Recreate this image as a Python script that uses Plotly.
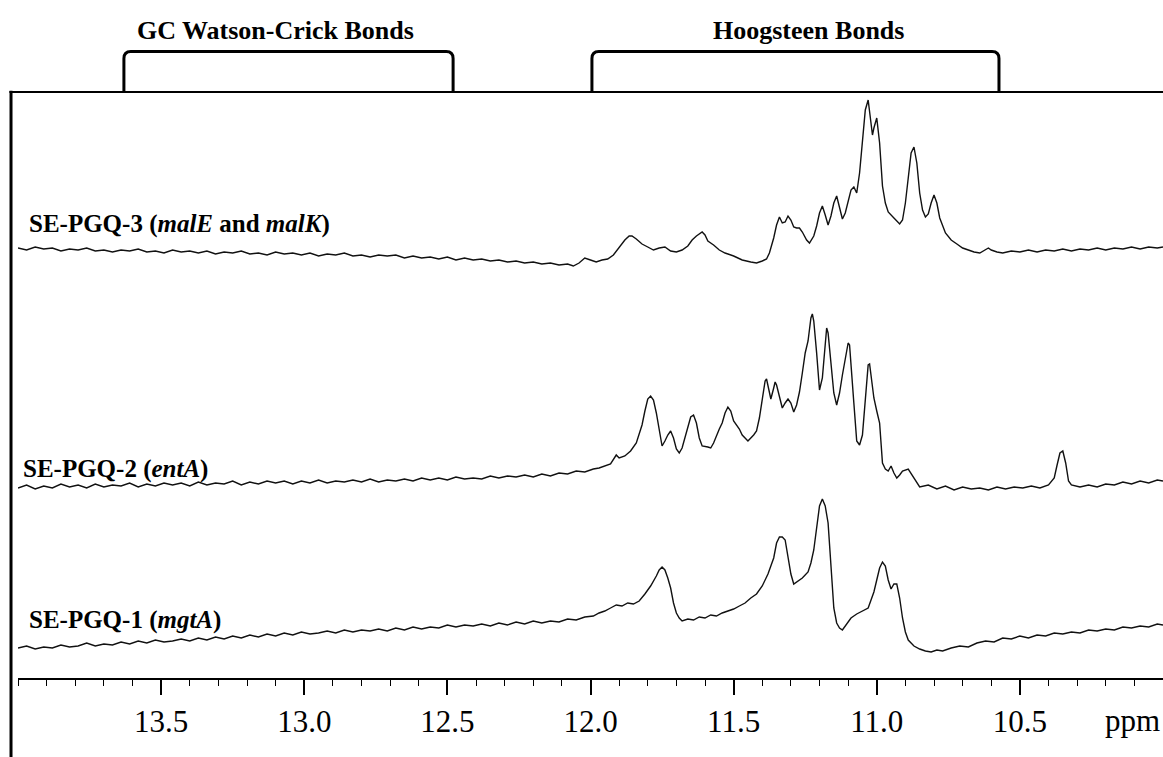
import plotly.graph_objects as go

# ---------------- data ----------------
# chemical shift (ppm) and intensity (a.u., relative to each trace's own baseline)
ppm_mgtA = [14.00, 13.97, 13.94, 13.91, 13.88, 13.85, 13.82, 13.79, 13.76, 13.73, 13.70, 13.67, 13.64, 13.61,
            13.58, 13.55, 13.52, 13.49, 13.46, 13.43, 13.40, 13.37, 13.34, 13.31, 13.28, 13.25, 13.22, 13.19,
            13.16, 13.13, 13.10, 13.07, 13.04, 13.01, 12.98, 12.95, 12.92, 12.89, 12.86, 12.83, 12.80, 12.77,
            12.74, 12.71, 12.68, 12.65, 12.62, 12.59, 12.56, 12.53, 12.50, 12.47, 12.44, 12.41, 12.38, 12.35,
            12.32, 12.29, 12.26, 12.23, 12.20, 12.17, 12.14, 12.11, 12.08, 12.05, 12.02, 11.99, 11.97, 11.95,
            11.93, 11.91, 11.89, 11.87, 11.85, 11.83, 11.81, 11.79, 11.77, 11.76, 11.75, 11.74, 11.73, 11.72,
            11.71, 11.70, 11.69, 11.68, 11.66, 11.64, 11.62, 11.60, 11.58, 11.56, 11.54, 11.52, 11.50, 11.48,
            11.46, 11.44, 11.42, 11.40, 11.38, 11.36, 11.35, 11.34, 11.33, 11.32, 11.31, 11.30, 11.29, 11.28,
            11.26, 11.24, 11.23, 11.22, 11.21, 11.20, 11.19, 11.18, 11.17, 11.16, 11.15, 11.14, 11.13, 11.12,
            11.11, 11.10, 11.09, 11.07, 11.05, 11.03, 11.02, 11.01, 11.00, 10.99, 10.98, 10.97, 10.96, 10.95,
            10.94, 10.93, 10.92, 10.91, 10.90, 10.89, 10.87, 10.85, 10.83, 10.81, 10.79, 10.77, 10.74, 10.71,
            10.68, 10.65, 10.62, 10.59, 10.56, 10.53, 10.50, 10.47, 10.44, 10.41, 10.38, 10.35, 10.32, 10.29,
            10.26, 10.23, 10.20, 10.17, 10.14, 10.11, 10.08, 10.05, 10.02, 10.00]
int_mgtA = [10, 12, 9, 11, 10, 13, 11, 12, 15, 12, 14, 13, 16, 14,
            17, 15, 18, 16, 17, 19, 17, 20, 18, 21, 19, 22, 20, 23,
            21, 24, 22, 25, 23, 26, 24, 25, 27, 25, 28, 26, 28, 27,
            29, 27, 30, 28, 31, 29, 31, 30, 33, 31, 33, 32, 34, 32,
            35, 33, 36, 34, 37, 35, 37, 36, 39, 38, 41, 42, 45, 47,
            50, 53, 52, 55, 54, 57, 64, 72, 82, 88, 91, 88, 80, 70,
            55, 45, 40, 37, 39, 38, 41, 40, 43, 42, 45, 47, 49, 52,
            55, 60, 64, 72, 84, 100, 115, 121, 121, 118, 100, 84, 74, 76,
            80, 86, 95, 108, 130, 152, 159, 152, 135, 95, 50, 35, 30, 28,
            32, 36, 40, 44, 47, 50, 58, 66, 78, 90, 96, 92, 78, 69,
            74, 74, 60, 40, 26, 18, 12, 9, 7, 6, 8, 7, 10, 12,
            11, 15, 17, 16, 20, 19, 22, 20, 23, 22, 25, 24, 26, 25,
            28, 27, 29, 28, 31, 30, 32, 31, 34, 33]

ppm_entA = [14.00, 13.97, 13.94, 13.91, 13.88, 13.85, 13.82, 13.79, 13.76, 13.73, 13.70, 13.67, 13.64, 13.61,
            13.58, 13.55, 13.52, 13.49, 13.46, 13.43, 13.40, 13.37, 13.34, 13.31, 13.28, 13.25, 13.22, 13.19,
            13.16, 13.13, 13.10, 13.07, 13.04, 13.01, 12.98, 12.95, 12.92, 12.89, 12.86, 12.83, 12.80, 12.77,
            12.74, 12.71, 12.68, 12.65, 12.62, 12.59, 12.56, 12.53, 12.50, 12.47, 12.44, 12.41, 12.38, 12.35,
            12.32, 12.29, 12.26, 12.23, 12.20, 12.17, 12.14, 12.11, 12.08, 12.05, 12.02, 11.99, 11.97, 11.95,
            11.93, 11.91, 11.90, 11.88, 11.86, 11.84, 11.82, 11.81, 11.80, 11.79, 11.78, 11.77, 11.76, 11.75,
            11.74, 11.73, 11.72, 11.71, 11.70, 11.69, 11.68, 11.67, 11.66, 11.65, 11.64, 11.63, 11.62, 11.61,
            11.59, 11.58, 11.57, 11.56, 11.55, 11.54, 11.53, 11.52, 11.51, 11.50, 11.49, 11.48, 11.47, 11.46,
            11.45, 11.43, 11.42, 11.41, 11.40, 11.39, 11.385, 11.38, 11.37, 11.36, 11.355, 11.35, 11.34, 11.33,
            11.32, 11.31, 11.30, 11.29, 11.28, 11.27, 11.26, 11.25, 11.24, 11.23, 11.225, 11.22, 11.21, 11.20,
            11.19, 11.18, 11.175, 11.17, 11.16, 11.15, 11.14, 11.13, 11.12, 11.11, 11.10, 11.095, 11.09, 11.08,
            11.07, 11.06, 11.05, 11.04, 11.03, 11.025, 11.02, 11.01, 11.00, 10.99, 10.98, 10.97, 10.96, 10.95,
            10.94, 10.93, 10.92, 10.91, 10.89, 10.87, 10.85, 10.82, 10.79, 10.76, 10.73, 10.70, 10.67, 10.64,
            10.61, 10.58, 10.55, 10.52, 10.49, 10.46, 10.43, 10.40, 10.38, 10.37, 10.36, 10.35, 10.34, 10.33,
            10.32, 10.29, 10.26, 10.23, 10.20, 10.17, 10.14, 10.11, 10.08, 10.05, 10.02, 10.00]
int_entA = [5, 8, 4, 7, 5, 9, 6, 8, 5, 9, 6, 8, 7, 10,
            6, 9, 7, 10, 8, 10, 7, 11, 8, 10, 9, 12, 8, 11,
            9, 12, 10, 12, 9, 12, 10, 13, 10, 12, 11, 13, 11, 14,
            11, 13, 12, 14, 12, 15, 13, 15, 13, 16, 14, 15, 14, 17,
            15, 17, 16, 18, 16, 19, 17, 20, 19, 22, 21, 24, 25, 27,
            29, 38, 35, 37, 42, 50, 68, 82, 94, 97, 93, 80, 62, 47,
            52, 58, 62, 55, 44, 40, 45, 55, 66, 76, 78, 70, 55, 47,
            46, 45, 50, 58, 64, 70, 80, 86, 82, 72, 68, 64, 58, 55,
            52, 58, 62, 75, 95, 112, 114, 108, 94, 105, 111, 108, 95, 85,
            90, 94, 90, 81, 88, 101, 120, 140, 152, 175, 179, 172, 140, 103,
            115, 150, 165, 160, 130, 100, 88, 100, 118, 135, 150, 148, 125, 90,
            52, 48, 58, 90, 128, 129, 118, 95, 82, 70, 30, 24, 22, 27,
            20, 15, 18, 22, 24, 15, 6, 8, 4, 7, 3, 6, 4, 5,
            3, 6, 4, 6, 5, 7, 5, 8, 15, 28, 40, 42, 30, 12,
            8, 6, 8, 6, 9, 8, 11, 9, 12, 10, 13, 12]

ppm_malEK = [14.00, 13.97, 13.94, 13.91, 13.88, 13.85, 13.82, 13.79, 13.76, 13.73, 13.70, 13.67, 13.64, 13.61,
             13.58, 13.55, 13.52, 13.49, 13.46, 13.43, 13.40, 13.37, 13.34, 13.31, 13.28, 13.25, 13.22, 13.19,
             13.16, 13.13, 13.10, 13.07, 13.04, 13.01, 12.98, 12.95, 12.92, 12.89, 12.86, 12.83, 12.80, 12.77,
             12.74, 12.71, 12.68, 12.65, 12.62, 12.59, 12.56, 12.53, 12.50, 12.47, 12.44, 12.41, 12.38, 12.35,
             12.32, 12.29, 12.26, 12.23, 12.20, 12.17, 12.14, 12.11, 12.08, 12.06, 12.04, 12.02, 12.00, 11.98,
             11.96, 11.94, 11.92, 11.90, 11.88, 11.865, 11.855, 11.84, 11.82, 11.80, 11.78, 11.76, 11.74, 11.72,
             11.70, 11.68, 11.66, 11.645, 11.63, 11.61, 11.60, 11.59, 11.57, 11.55, 11.53, 11.50, 11.47, 11.44,
             11.42, 11.40, 11.385, 11.375, 11.36, 11.35, 11.34, 11.33, 11.32, 11.31, 11.30, 11.29, 11.28, 11.27,
             11.26, 11.245, 11.235, 11.22, 11.21, 11.20, 11.19, 11.18, 11.17, 11.16, 11.15, 11.14, 11.13, 11.12,
             11.11, 11.10, 11.09, 11.08, 11.07, 11.06, 11.05, 11.04, 11.03, 11.02, 11.015, 11.01, 11.00, 10.99,
             10.98, 10.97, 10.96, 10.94, 10.92, 10.91, 10.90, 10.89, 10.88, 10.87, 10.86, 10.85, 10.84, 10.83,
             10.82, 10.81, 10.80, 10.79, 10.78, 10.76, 10.74, 10.72, 10.70, 10.68, 10.66, 10.64, 10.62, 10.61,
             10.60, 10.58, 10.56, 10.53, 10.50, 10.47, 10.44, 10.41, 10.38, 10.35, 10.32, 10.29, 10.26, 10.23,
             10.20, 10.17, 10.14, 10.11, 10.08, 10.05, 10.02, 10.00]
int_malEK = [10, 8, 11, 9, 10, 7, 9, 8, 10, 7, 8, 6, 8, 7,
             9, 6, 7, 5, 8, 6, 7, 5, 7, 4, 6, 5, 7, 4,
             5, 3, 6, 4, 5, 3, 5, 2, 4, 3, 5, 2, 3, 1,
             3, 2, 3, 0, 2, 0, 1, -1, 1, -2, 0, -2, -1, -3,
             -2, -4, -3, -5, -4, -6, -5, -7, -6, -8, -5, 0, -2, -4,
             -2, -1, 3, 10, 18, 22, 22, 19, 14, 11, 8, 10, 11, 7,
             6, 8, 12, 18, 22, 26, 23, 17, 13, 8, 5, 2, -2, -4,
             -5, -3, -1, 5, 20, 33, 41, 35, 36, 42, 38, 31, 30, 30,
             26, 18, 15, 22, 32, 45, 52, 43, 33, 42, 55, 62, 50, 39,
             45, 58, 68, 71, 65, 85, 120, 148, 158, 130, 123, 130, 140, 115,
             72, 55, 46, 40, 34, 38, 55, 80, 105, 111, 95, 65, 48, 41,
             44, 55, 63, 55, 40, 25, 18, 14, 10, 8, 6, 5, 8, 10,
             8, 6, 5, 7, 6, 8, 6, 8, 7, 9, 7, 9, 8, 10,
             8, 10, 9, 11, 9, 11, 10, 11]

series_names = ["SE-PGQ-1 (<i>mgtA</i>)", "SE-PGQ-2 (<i>entA</i>)", "SE-PGQ-3 (<i>malE</i> and <i>malK</i>)"]
series_ppm = [ppm_mgtA, ppm_entA, ppm_malEK]
series_int = [int_mgtA, int_entA, int_malEK]
stack_offsets = [20, 185, 420]          # vertical stacking of the spectra (a.u.)
label_ppm = [13.97, 13.99, 13.97]       # where each series name starts
label_level = [38, 24, 34]              # label height above each trace offset

tick_values = [14.0, 13.5, 13.0, 12.5, 12.0, 11.5, 11.0, 10.5, 10.0]
tick_labels = ["", "13.5", "13.0", "12.5", "12.0", "11.5", "11.0", "10.5", ""]
minor_ticks = [round(10.0 + 0.1 * i, 1) for i in range(41)]
unit_label = "ppm"

bracket_names = ["GC Watson-Crick Bonds", "Hoogsteen Bonds"]
bracket_ranges = [(13.63, 12.48), (11.995, 10.573)]
bracket_label_ppm = [13.10, 11.24]

X_RANGE = [14.0, 10.0]
Y_RANGE = [0, 586]

# ---------------- figure ----------------
fig = go.Figure()
for name, xs, ys, off in zip(series_names, series_ppm, series_int, stack_offsets):
    fig.add_trace(go.Scatter(x=xs, y=[v + off for v in ys], mode="lines",
                             line=dict(color="#111111", width=1.4), name=name,
                             showlegend=False, hoverinfo="skip"))

serif = "Liberation Serif"
annotations = []
for name, lx, lv, off in zip(series_names, label_ppm, label_level, stack_offsets):
    annotations.append(dict(x=lx, y=off + lv, xref="x", yref="y", text="<b>" + name + "</b>",
                            showarrow=False, xanchor="left", yanchor="middle",
                            font=dict(family=serif, size=25, color="black")))


def to_paper_x(p):
    return (X_RANGE[0] - p) / (X_RANGE[0] - X_RANGE[1])


shapes = []
bracket_top = 1.069
for (a, b), nm, lp in zip(bracket_ranges, bracket_names, bracket_label_ppm):
    x0, x1 = to_paper_x(a), to_paper_x(b)
    r = 0.006
    path = (f"M {x0},1 L {x0},{bracket_top - 0.012} Q {x0},{bracket_top} {x0 + r},{bracket_top} "
            f"L {x1 - r},{bracket_top} Q {x1},{bracket_top} {x1},{bracket_top - 0.012} L {x1},1")
    shapes.append(dict(type="path", path=path, xref="paper", yref="paper",
                       line=dict(color="black", width=3)))
    annotations.append(dict(x=to_paper_x(lp), y=1.105, xref="paper", yref="paper",
                            text="<b>" + nm + "</b>", showarrow=False, xanchor="center",
                            yanchor="middle", font=dict(family=serif, size=26, color="black")))

# frame lines: top rule and left rule
shapes.append(dict(type="line", xref="paper", yref="paper", x0=-0.0075, x1=1.0, y0=1, y1=1,
                   line=dict(color="black", width=2)))
shapes.append(dict(type="line", xref="paper", yref="paper", x0=-0.0061, x1=-0.0061, y0=1.002, y1=-0.14,
                   line=dict(color="black", width=3)))

annotations.append(dict(x=10.005, y=-0.072, xref="x", yref="paper", text=unit_label, showarrow=False,
                        xanchor="right", yanchor="middle", font=dict(family=serif, size=31, color="black")))

fig.update_layout(
    width=1163, height=757,
    margin=dict(l=18, r=0, t=92, b=79, pad=0),
    paper_bgcolor="white", plot_bgcolor="white",
    xaxis=dict(range=X_RANGE, tickmode="array", tickvals=tick_values, ticktext=tick_labels,
               ticks="outside", ticklen=15, tickwidth=1.5, tickcolor="black",
               showline=True, linecolor="black", linewidth=1.5,
               showgrid=False, zeroline=False,
               tickfont=dict(family=serif, size=31, color="black"),
               minor=dict(tickmode="array", tickvals=minor_ticks, ticks="outside", ticklen=6,
                          tickwidth=1.2, tickcolor="black", showgrid=False)),
    yaxis=dict(range=Y_RANGE, visible=False, showgrid=False, zeroline=False),
    annotations=annotations, shapes=shapes,
)

fig.write_html("out.html")
